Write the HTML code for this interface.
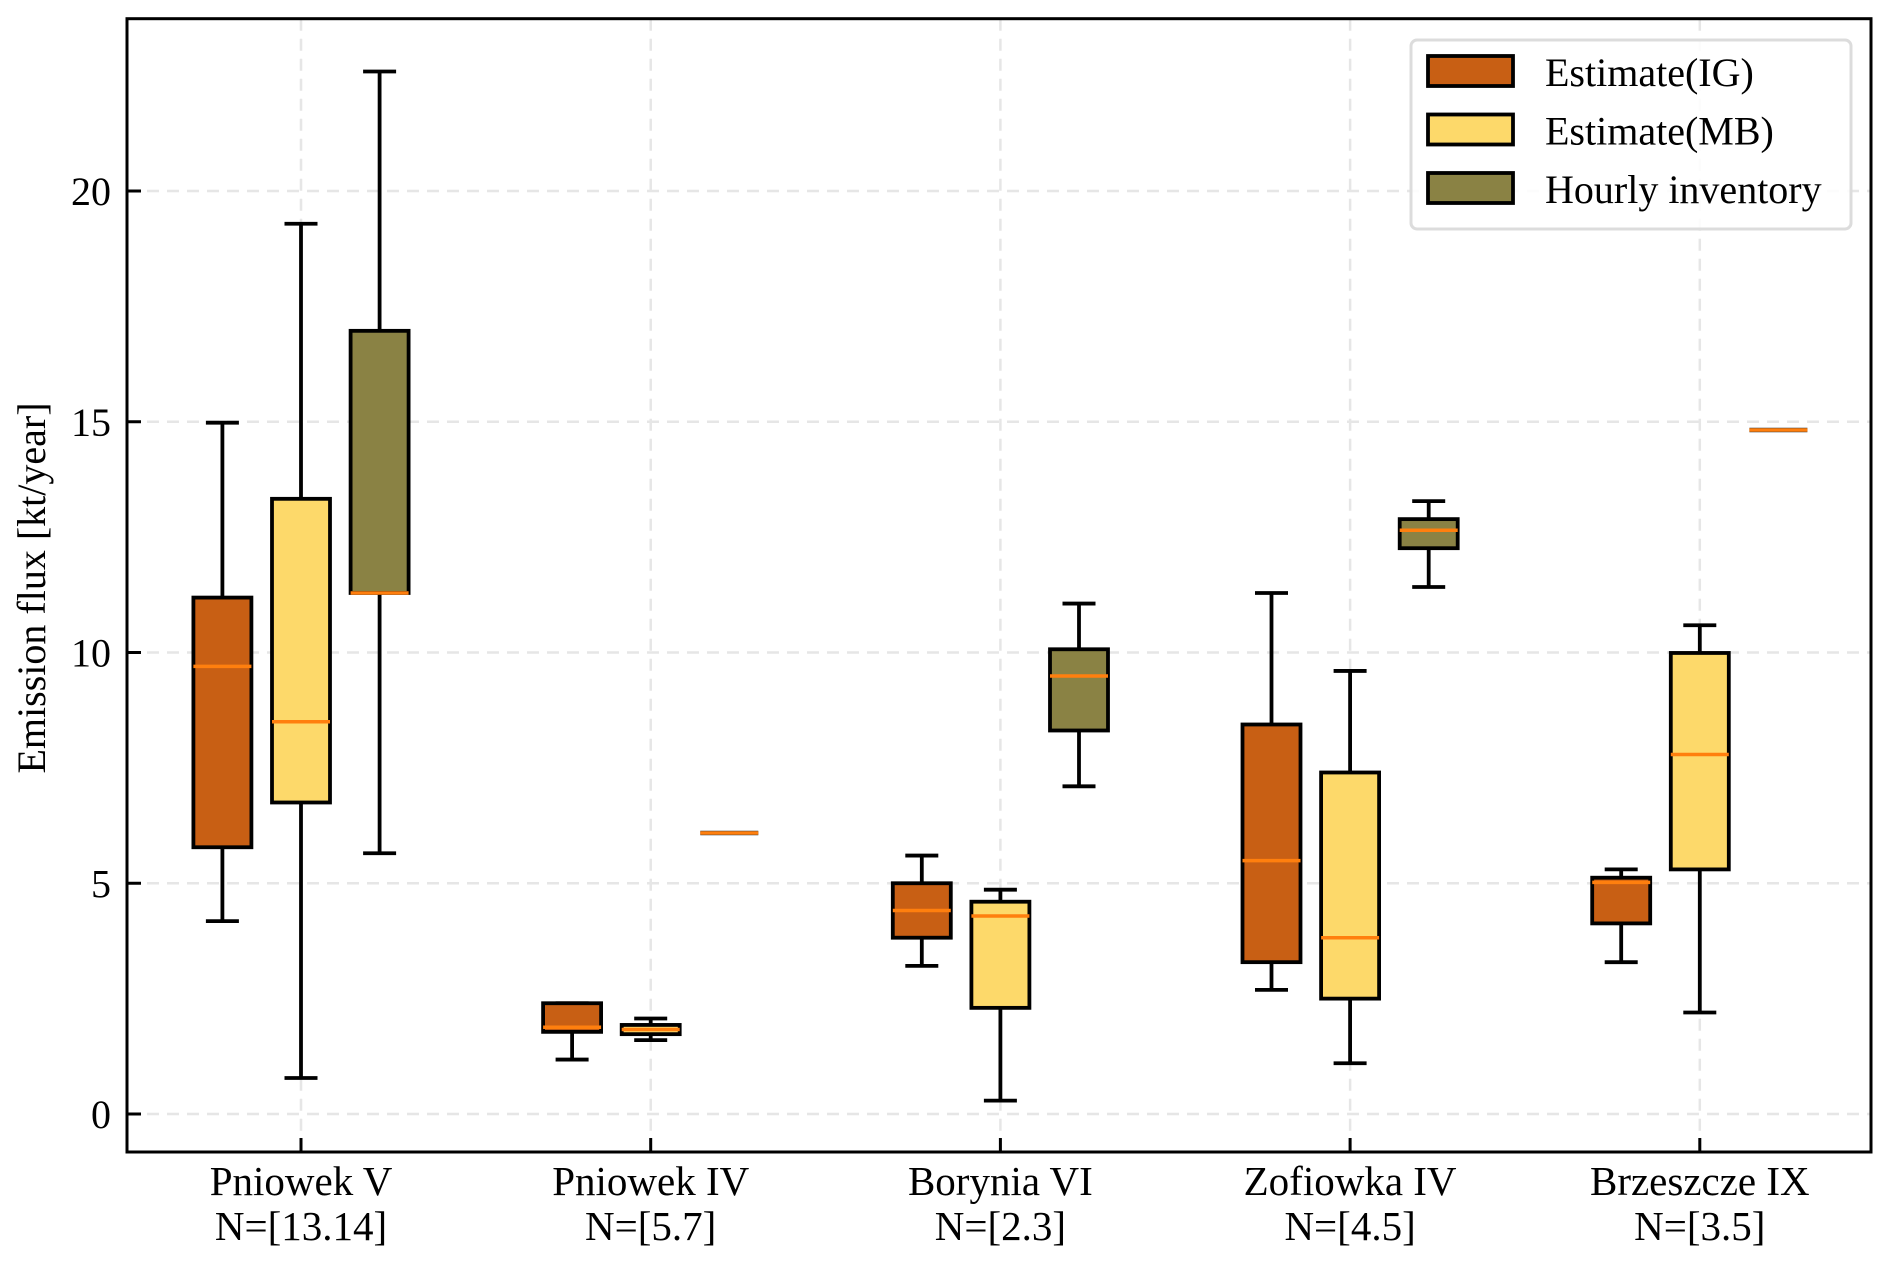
<!DOCTYPE html>
<html><head><meta charset="utf-8"><style>
html,body{margin:0;padding:0;background:#fff;}
svg{display:block;font-family:"Liberation Serif",serif;}
</style></head><body>
<svg id="chart" width="1891" height="1266" xmlns="http://www.w3.org/2000/svg"></svg>
<script>
const categories = ["Pniowek V","Pniowek IV","Borynia VI","Zofiowka IV","Brzeszcze IX"];
const nLabels = ["N=[13.14]","N=[5.7]","N=[2.3]","N=[4.5]","N=[3.5]"];
const seriesNames = ["Estimate(IG)","Estimate(MB)","Hourly inventory"];
// each: [whislo, q1, median, q3, whishi]
const igStats = [[4.18,5.78,9.7,11.19,14.98],[1.18,1.78,1.88,2.4,2.4],[3.21,3.82,4.41,5.0,5.6],[2.69,3.29,5.49,8.44,11.29],[3.29,4.13,5.02,5.12,5.3]];
const mbStats = [[0.78,6.75,8.5,13.33,19.29],[1.6,1.73,1.83,1.93,2.07],[0.29,2.3,4.29,4.6,4.86],[1.1,2.5,3.82,7.4,9.6],[2.2,5.3,7.79,9.99,10.59]];
const hiStats = [[5.65,11.29,11.29,16.97,22.59],[6.09,6.09,6.09,6.09,6.09],[7.1,8.31,9.49,10.07,11.06],[11.42,12.26,12.65,12.89,13.28],[14.82,14.82,14.82,14.82,14.82]];
const yTicks = [0,5,10,15,20];

const svg = document.getElementById('chart');
const NS = "http://www.w3.org/2000/svg";
const L=127,R=1871,T=18.7,B=1152;
const y0px=1114, pxPerUnit=46.15;
function y(v){return y0px - v*pxPerUnit;}
const catX0=301, catStep=349.7;
function x(i){return catX0 + i*catStep;}
const colors=["#c85f14","#fdd96a","#8a8244"];
const offsets=[-78.6,0,78.6];
const boxW=58, capW=33;
function el(tag,attrs,parent){const e=document.createElementNS(NS,tag);for(const k in attrs)e.setAttribute(k,attrs[k]);(parent||svg).appendChild(e);return e;}

const grid=el('g',{});


yTicks.forEach(t=>{const g=el('line',{x1:L,x2:R,y1:y(t),y2:y(t),stroke:'#e6e6e6','stroke-width':2.5,'stroke-dasharray':'12,8'},grid);

});
categories.forEach((c,i)=>{const g=el('line',{x1:x(i),x2:x(i),y1:T,y2:B,stroke:'#e6e6e6','stroke-width':2.5,'stroke-dasharray':'12,8'},grid);

});

const all=[igStats,mbStats,hiStats];
all.forEach((stats,s)=>{
  stats.forEach((d,i)=>{
    const g=el('g',{});
    
    
    const cx=x(i)+offsets[s];
    const [lo,q1,md,q3,hi]=d;
    if(hi>lo){
      el('line',{x1:cx,x2:cx,y1:y(q3),y2:y(hi),stroke:'#000','stroke-width':3.8},g);
      el('line',{x1:cx,x2:cx,y1:y(q1),y2:y(lo),stroke:'#000','stroke-width':3.8},g);
      el('line',{x1:cx-capW/2,x2:cx+capW/2,y1:y(hi),y2:y(hi),stroke:'#000','stroke-width':3.8},g);
      el('line',{x1:cx-capW/2,x2:cx+capW/2,y1:y(lo),y2:y(lo),stroke:'#000','stroke-width':3.8},g);
      el('rect',{x:cx-boxW/2,y:y(q3),width:boxW,height:Math.max(0,y(q1)-y(q3)),fill:colors[s],stroke:'#000','stroke-width':3.8},g);
    } else {
      el('line',{x1:cx-boxW/2,x2:cx+boxW/2,y1:y(md),y2:y(md),stroke:'#333','stroke-width':4.5},g);
    }
    el('line',{x1:cx-boxW/2,x2:cx+boxW/2,y1:y(md),y2:y(md),stroke:'#ff7f0e','stroke-width':3.5},g);
  });
});

const frame=el('rect',{x:L,y:T,width:R-L,height:B-T,fill:'none',stroke:'#000','stroke-width':3});



yTicks.forEach(t=>{
  el('line',{x1:L,x2:L+14,y1:y(t),y2:y(t),stroke:'#000','stroke-width':3});
  const tx=el('text',{x:L-16,y:y(t)+14,'font-size':40,'text-anchor':'end'});
  tx.textContent=t;
  
  
});
categories.forEach((c,i)=>{
  el('line',{x1:x(i),x2:x(i),y1:B,y2:B-14,stroke:'#000','stroke-width':3});
  const t1=el('text',{x:x(i),y:1195,'font-size':41,'text-anchor':'middle'});
  t1.textContent=c;
  
  
  const t2=el('text',{x:x(i),y:1240,'font-size':41,'text-anchor':'middle'});
  t2.textContent=nLabels[i];
  
  
});
const yt=el('text',{x:0,y:0,'font-size':40,'text-anchor':'middle',transform:'translate(45,588) rotate(-90)'});
yt.textContent='Emission flux [kt/year]';



const lg=el('g',{});


el('rect',{x:1411,y:40,width:440,height:189,rx:6,fill:'#fff','fill-opacity':0.85,stroke:'#dcdcdc','stroke-width':3},lg);
seriesNames.forEach((n,k)=>{
  const ey=56+k*58.5;
  const p=el('rect',{x:1428,y:ey,width:85,height:30,fill:colors[k],stroke:'#000','stroke-width':3.8},lg);
  
  
  const t=el('text',{x:1545,y:ey+30,'font-size':40},lg);
  t.textContent=n;
  
  
});
</script>
</body></html>
